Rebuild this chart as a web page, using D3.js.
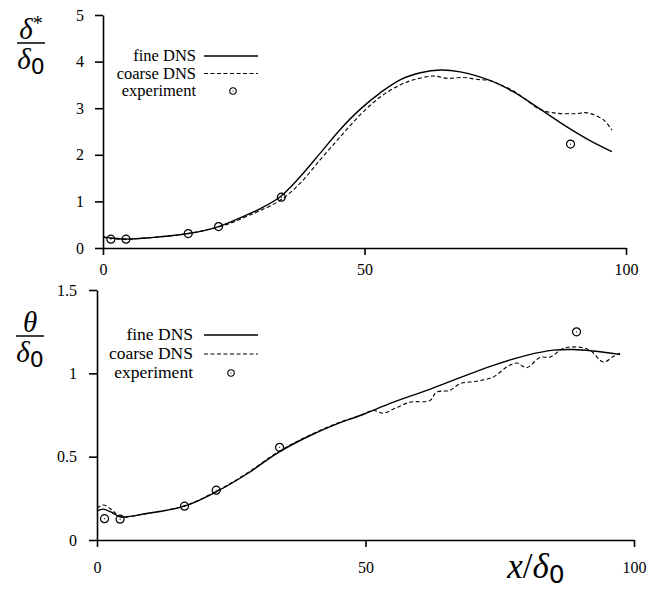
<!DOCTYPE html>
<html>
<head>
<meta charset="utf-8">
<script src="https://cdn.jsdelivr.net/npm/d3@7"></script>
<style>
  body { margin: 0; background: #fff; }
  svg text { font-family: "Liberation Serif", "Times New Roman", serif; fill: #000; }
</style>
</head>
<body>
<div id="chart"></div>
<script>
// displacement thickness (top) and momentum thickness (bottom) vs x/delta0

const legendLabels = ["fine DNS", "coarse DNS", "experiment"];

const dispFine = [
  [0, 0.23], [2, 0.21], [4.4, 0.19], [9, 0.22], [16.3, 0.31], [22.1, 0.46],
  [27.5, 0.71], [30, 0.84], [33.9, 1.1], [37.7, 1.53], [41.5, 2.03], [45.4, 2.55],
  [49.2, 2.98], [53, 3.33], [56.8, 3.61], [60.7, 3.76], [64.5, 3.82], [68.3, 3.78],
  [74.1, 3.59], [78.5, 3.35], [83.6, 2.98], [88.7, 2.6], [93.2, 2.3], [97.3, 2.07]
];
const dispCoarse = [
  [0, 0.24], [1, 0.22], [2, 0.2], [4.4, 0.19], [9, 0.22], [16.3, 0.31], [22.1, 0.45],
  [25, 0.56], [27.5, 0.68], [30, 0.8], [34.1, 1.04], [37.7, 1.39], [41.5, 1.89],
  [45.4, 2.39], [49.2, 2.86], [53, 3.24], [56.8, 3.5], [59.4, 3.61], [63.2, 3.69],
  [65.8, 3.64], [68.9, 3.66], [71.4, 3.62], [74.1, 3.59], [76, 3.5], [78.5, 3.37],
  [81, 3.17], [83.6, 2.97], [86.2, 2.9], [90, 2.88], [92.6, 2.9], [95.7, 2.75], [97.3, 2.53]
];
const dispExp = [[1.5, 0.19], [4.4, 0.19], [16.3, 0.31], [22.1, 0.46], [34.1, 1.09], [89.4, 2.23]];

const momFine = [
  [0, 0.175], [1.2, 0.185], [2.8, 0.165], [4.3, 0.139], [9.3, 0.159], [16.3, 0.203],
  [22.2, 0.289], [27.9, 0.396], [33.8, 0.526], [39.7, 0.627], [44.7, 0.697], [49, 0.747],
  [55.2, 0.827], [61.4, 0.898], [67.6, 0.974], [73.8, 1.048], [80, 1.108], [85, 1.139],
  [88.7, 1.143], [92.4, 1.134], [97.4, 1.114]
];
const momCoarse = [
  [0, 0.19], [1.2, 0.21], [2.8, 0.18], [4.3, 0.14], [9.3, 0.16], [16.3, 0.205],
  [22.2, 0.292], [27.9, 0.4], [33.8, 0.53], [39.7, 0.63], [44.7, 0.7], [49, 0.747],
  [51.5, 0.777], [53.3, 0.761], [55.5, 0.79], [58.3, 0.827], [62, 0.837], [63.2, 0.887],
  [65.7, 0.898], [67.6, 0.938], [70.7, 0.952], [73.8, 0.978], [76.3, 1.038], [78.2, 1.062],
  [80, 1.034], [82.5, 1.095], [84.4, 1.098], [86.8, 1.149], [89.3, 1.158], [91.8, 1.139],
  [94.3, 1.068], [96.2, 1.102], [97.4, 1.12]
];
const momExp = [[1.4, 0.128], [4.3, 0.125], [16.3, 0.203], [22.2, 0.299], [34, 0.556], [89.3, 1.249]];

const xTicks = [0, 50, 100];
const dispTicks = [0, 1, 2, 3, 4, 5];
const momTicks = [0, 0.5, 1, 1.5];

const serif = '"Liberation Serif", "Times New Roman", serif';

const svg = d3.select("#chart").append("svg")
  .attr("width", 662)
  .attr("height", 591);

function panel(opt) {
  const x = d3.scaleLinear().domain([0, 100]).range(opt.xr);
  const y = d3.scaleLinear().domain(opt.yd).range(opt.yr);
  const g = svg.append("g");

  const ax = g.append("g")
    .attr("transform", `translate(0,${opt.yr[0]})`)
    .call(d3.axisBottom(x).tickValues(xTicks).tickSize(7).tickSizeOuter(0).tickPadding(opt.xpad));
  const ay = g.append("g")
    .attr("transform", `translate(${opt.xr[0]},0)`)
    .call(d3.axisLeft(y).tickValues(opt.yticks).tickSize(8).tickSizeOuter(0).tickPadding(opt.ypad)
      .tickFormat(d3.format("")));
  [ax, ay].forEach(a => {
    a.attr("font-family", serif).attr("font-size", 16);
    a.selectAll("path, line").attr("stroke", "#000").attr("stroke-width", 1.6);
    a.selectAll("text").style("font-size", "16px").style("font-family", serif);
  });

  const line = d3.line()
    .x(d => x(d[0]))
    .y(d => y(d[1]))
    .curve(d3.curveCatmullRom.alpha(0.5));

  g.append("path").datum(opt.fine)
    .attr("d", line).attr("fill", "none").attr("stroke", "#000").attr("stroke-width", 1.4);
  g.append("path").datum(opt.coarse)
    .attr("d", line).attr("fill", "none").attr("stroke", "#000").attr("stroke-width", 1.1)
    .attr("stroke-dasharray", "4,2.5");

  const pts = g.selectAll(".exp").data(opt.exp).enter().append("g")
    .attr("transform", d => `translate(${x(d[0])},${y(d[1])})`);
  pts.append("circle").attr("r", 4).attr("fill", "none").attr("stroke", "#000").attr("stroke-width", 1.2);
  pts.append("circle").attr("r", 0.6).attr("fill", "#000");

  // legend
  const lg = g.append("g");
  legendLabels.forEach((t, i) => {
    const yy = opt.leg.y + i * opt.leg.dy;
    lg.append("text")
      .attr("x", opt.leg.tx).attr("y", yy)
      .attr("text-anchor", "end")
      .style("font-size", opt.leg.fs + "px")
      .text(t);
    const my = yy - 5;
    if (i < 2) {
      lg.append("line")
        .attr("x1", opt.leg.lx0).attr("x2", opt.leg.lx1)
        .attr("y1", my).attr("y2", my)
        .attr("stroke", "#000").attr("stroke-width", i === 0 ? 1.4 : 1.1)
        .attr("stroke-dasharray", i === 0 ? null : "4,2.5");
    } else {
      lg.append("circle").attr("cx", opt.leg.cx).attr("cy", my).attr("r", 3.2)
        .attr("fill", "none").attr("stroke", "#000").attr("stroke-width", 1.1);
      lg.append("circle").attr("cx", opt.leg.cx).attr("cy", my).attr("r", 0.6).attr("fill", "#000");
    }
  });
}

panel({
  xr: [103, 626], yr: [248, 15], yd: [0, 5], yticks: dispTicks,
  xpad: 9, ypad: 11,
  fine: dispFine, coarse: dispCoarse, exp: dispExp,
  leg: { y: 61, dy: 17.5, tx: 196, lx0: 204, lx1: 258, cx: 233, fs: 16.5 }
});

panel({
  xr: [97, 634], yr: [540, 290], yd: [0, 1.5], yticks: momTicks,
  xpad: 15, ypad: 12,
  fine: momFine, coarse: momCoarse, exp: momExp,
  leg: { y: 340, dy: 19, tx: 193, lx0: 204, lx1: 258, cx: 231, fs: 17.5 }
});

// axis labels (math style)
function frac(cx, lineY, num, numSup, den) {
  const g = svg.append("g");
  const t1 = g.append("text").attr("x", cx).attr("y", lineY - 4).attr("text-anchor", "middle")
    .style("font-size", "29px").style("font-family", serif);
  t1.append("tspan").style("font-style", "italic").text(num);
  if (numSup) t1.append("tspan").attr("dy", -9).style("font-size", "20px").text(numSup);
  g.append("line").attr("x1", cx - 14).attr("x2", cx + 14).attr("y1", lineY).attr("y2", lineY)
    .attr("stroke", "#000").attr("stroke-width", 1.5);
  const t2 = g.append("text").attr("x", cx).attr("y", lineY + 26).attr("text-anchor", "middle")
    .style("font-size", "29px").style("font-family", serif);
  t2.append("tspan").style("font-style", "italic").text(den);
  t2.append("tspan").attr("dy", 5).style("font-size", "22px").style("font-family", "DejaVu Sans").text("0");
}
frac(31, 43, "δ", "*", "δ");
frac(30, 336, "θ", null, "δ");

const xl = svg.append("text").attr("x", 536).attr("y", 578).attr("text-anchor", "middle")
  .style("font-size", "35px").style("font-family", serif);
xl.append("tspan").style("font-style", "italic").text("x");
xl.append("tspan").text("/");
xl.append("tspan").style("font-style", "italic").text("δ");
xl.append("tspan").attr("dy", 5).style("font-size", "25px").style("font-family", "DejaVu Sans").text("0");
</script>
</body>
</html>
